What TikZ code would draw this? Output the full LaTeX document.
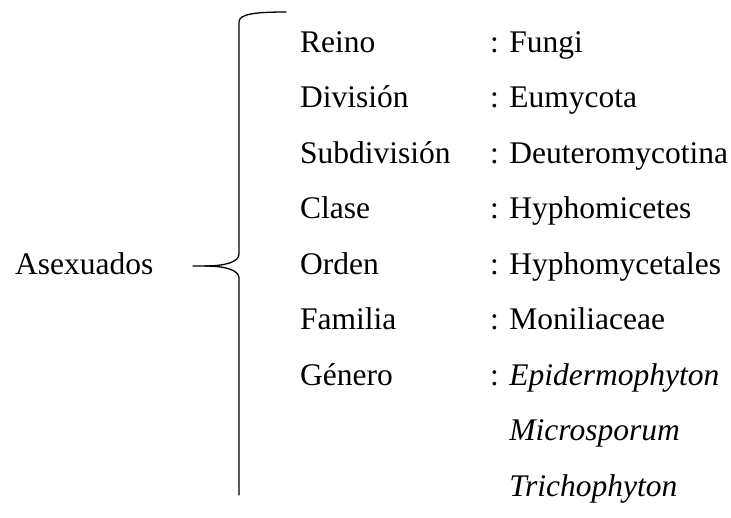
\documentclass[tikz,border=0pt]{standalone}
\usepackage{fontspec}
\setmainfont{Liberation Serif}
\begin{document}
\begin{tikzpicture}[x=1pt,y=-1pt,
  lbl/.style={anchor=base west,inner sep=0pt,font=\fontsize{31.5}{36}\selectfont},
  brace/.style={line width=1.3pt,line cap=round,line join=round}]
\useasboundingbox (0,0) rectangle (731,517);
% group label, on the row of the brace tip
\node[lbl] (asex) at (15,274) {Asexuados};
% taxonomy rows
\foreach \k/\v/\yy [count=\i] in {Reino/Fungi/52, División/Eumycota/107.5,
  Subdivisión/Deuteromycotina/163, Clase/Hyphomicetes/218.5,
  Orden/Hyphomycetales/274, Familia/Moniliaceae/329.5}{
  \node[lbl] (k\i) at (300,\yy) {\k};
  \node[lbl] (v\i) at (490,\yy) {: \v};
}
\node[lbl] (k7) at (300,385) {Género};
\node[lbl] (v7) at (490,385) {: \textit{Epidermophyton}};
\node[lbl] (v8) at (490,440.5) {\phantom{: }\textit{Microsporum}};
\node[lbl] (v9) at (490,496) {\phantom{: }\textit{Trichophyton}};
% brace
\coordinate (tip) at (193,266);
\draw[brace] (286,12) .. controls (255,12) and (239,14) .. (239,22)
  -- (239,254) .. controls (239,262) and (225,266) .. (205,266) -- (tip);
\draw[brace] (205,266) .. controls (225,266) and (239,270) .. (239,278)
  -- (239,495);
\end{tikzpicture}
\end{document}
